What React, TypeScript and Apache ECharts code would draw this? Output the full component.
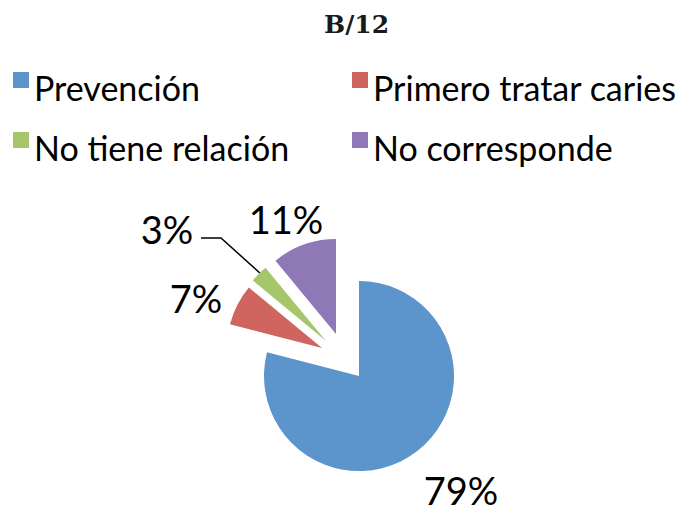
import React, { useEffect, useRef } from "react";
import * as echarts from "echarts";

const TITLE = "B/12";
const CATEGORIES = ["Prevención", "Primero tratar caries", "No tiene relación", "No corresponde"];
const VALUES = [79, 7, 3, 11];
const COLORS = ["#5B95CC", "#D0645E", "#A5C76A", "#8E78B5"];
// explosion offset of each slice from the pie centre (px)
const EXPLODE: [number, number][] = [
  [0, 0],
  [-37, -28],
  [-33, -35],
  [-23, -42],
];
const PIE_CENTER: [number, number] = [359, 376];
// label centres (px) and leader line for the small slice
const LABEL_POS: [number, number][] = [
  [461, 490],
  [196, 298],
  [167, 229],
  [286, 219],
];
const LEADER: [number, number][] = [
  [201, 238],
  [221, 238],
  [261, 274],
];
// legend placement: [left, top] per category
const LEGEND_POS: [number, number][] = [
  [8, 65],
  [347, 65],
  [8, 125],
  [347, 125],
];

const FONT = "Lato, 'Open Sans', sans-serif";
const HIDDEN = "rgba(0,0,0,0)";

export default function App() {
  const ref = useRef<HTMLDivElement>(null);
  useEffect(() => {
    if (!ref.current) return;
    const chart = echarts.init(ref.current, undefined, { renderer: "svg" });
    const total = VALUES.reduce((a, b) => a + b, 0);
    chart.setOption({
      animation: false,
      backgroundColor: "#fff",
      title: {
        text: TITLE,
        left: 319,
        top: 7,
        textStyle: {
          fontFamily: "'DejaVu Serif', serif",
          fontWeight: "bold",
          fontSize: 25,
          color: "#1a1a1a",
        },
      },
      legend: CATEGORIES.map((name, i) => ({
        orient: "vertical",
        left: LEGEND_POS[i][0],
        top: LEGEND_POS[i][1],
        itemWidth: 16,
        itemHeight: 16,
        icon: "rect",
        selectedMode: false,
        data: [{ name, itemStyle: { color: COLORS[i] } }],
        formatter: "{a|{name}}",
        textStyle: {
          rich: {
            a: {
              fontFamily: FONT,
              fontSize: 34,
              color: "#000",
              padding: [14, 0, 0, 0],
            },
          },
        },
      })),
      graphic: [
        {
          type: "polyline",
          silent: true,
          shape: { points: LEADER },
          style: { stroke: "#000", lineWidth: 1.5, fill: "none" },
        },
        ...VALUES.map((v, i) => ({
          type: "text",
          silent: true,
          x: LABEL_POS[i][0],
          y: LABEL_POS[i][1],
          style: {
            text: Math.round((v / total) * 100) + "%",
            fontFamily: FONT,
            fontSize: 38,
            lineHeight: 30,
            fill: "#000",
            align: "center",
            verticalAlign: "middle",
          },
        })),
      ],
      series: CATEGORIES.map((_, s) => ({
        type: "pie",
        name: "slice" + s,
        center: [PIE_CENTER[0] + EXPLODE[s][0], PIE_CENTER[1] + EXPLODE[s][1]],
        radius: 95,
        startAngle: 90,
        clockwise: true,
        silent: true,
        emphasis: { disabled: true },
        label: { show: false },
        labelLine: { show: false },
        data: CATEGORIES.map((name, i) => ({
          name,
          value: VALUES[i],
          itemStyle: { color: i === s ? COLORS[i] : HIDDEN, borderWidth: 0 },
        })),
      })),
    });
    return () => chart.dispose();
  }, []);
  return (
    <div
      ref={ref}
      style={{ position: "absolute", left: 0, top: 0, width: 681, height: 506 }}
    />
  );
}
